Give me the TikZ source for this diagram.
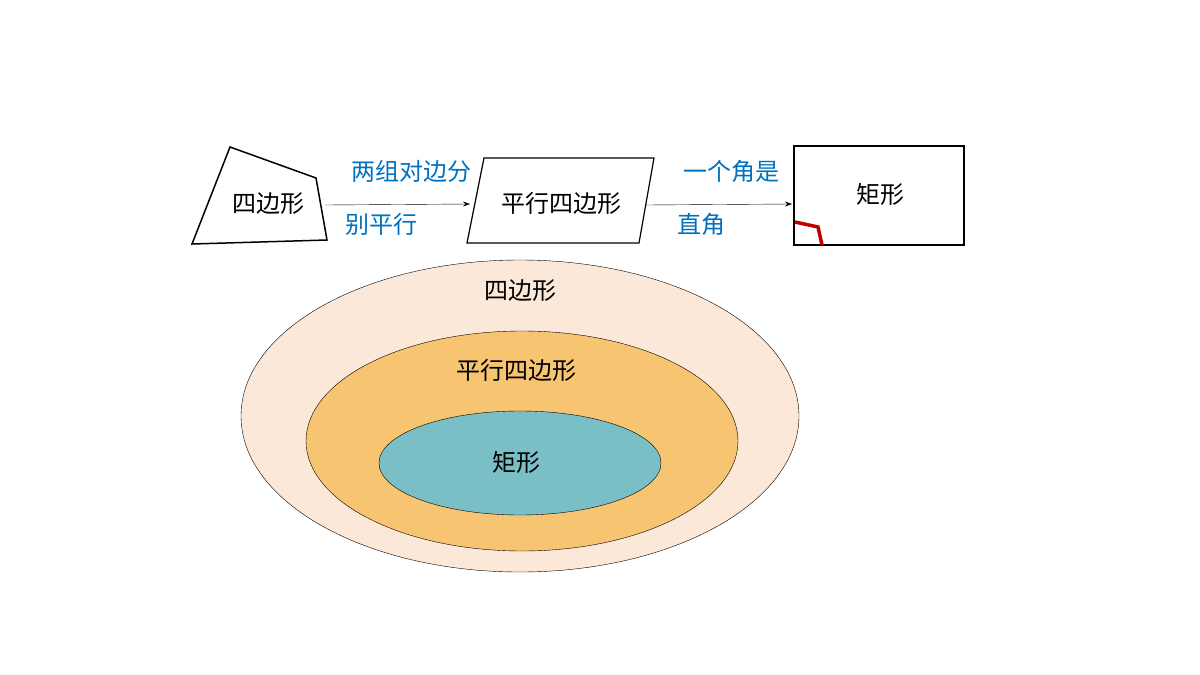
\documentclass[tikz,border=0pt]{standalone}
\usepackage{fontspec}
\setmainfont{Noto Sans CJK SC}
\usetikzlibrary{arrows.meta}
\definecolor{outerfill}{HTML}{FCE8D8}
\definecolor{midfill}{HTML}{F7C471}
\definecolor{innerfill}{HTML}{7BBFC6}
\definecolor{condblue}{HTML}{0070C0}
\definecolor{markred}{HTML}{C00000}
\begin{document}
\begin{tikzpicture}
    [x=1pt,y=-1pt,
      shapetext/.style={font=\fontsize{24}{28}\selectfont,inner sep=0pt},
      cond/.style={shapetext,text=condblue},
      trans/.style={-{Stealth[length=7pt,width=5pt]},thin},
      frame/.style={draw=black,line width=1.2pt}
    ]
    \useasboundingbox (0,0) rectangle (1200,675);

    % top row: the three shapes
    \draw [frame,line width=1.5pt] (230,147) -- (316,178) -- (327,240) -- (192,244) -- cycle;
    \node [shapetext] (quad) at (268,204) {四边形};
    \draw [frame] (484,158) -- (654,158) -- (639,243) -- (467,243) -- cycle;
    \node [shapetext] (para) at (561,203) {平行四边形};
    \draw [frame,line width=1.8pt] (794,146) rectangle (964,245);
    \node [shapetext] (rect) at (880,194) {矩形};
    \draw [markred,line width=3.5pt] (795,222) -- (818,227) -- (822,245);

    % arrows with conditions
    \coordinate (a1) at (325,205);
    \coordinate (a2) at (470,204);
    \coordinate (b1) at (646,205);
    \coordinate (b2) at (792,204);
    \draw [trans] (a1) -- (a2);
    \draw [trans] (b1) -- (b2);
    \node [cond] (c1) at (411,171) {两组对边分};
    \node [cond] (c2) at (381,224) {别平行};
    \node [cond] (c3) at (731,171) {一个角是};
    \node [cond] (c4) at (701,224) {直角};

    % nested sets
    \draw [fill=outerfill] (520,416) ellipse [x radius=279,y radius=156];
    \draw [fill=midfill] (522,441) ellipse [x radius=216,y radius=110];
    \draw [fill=innerfill] (520,463) ellipse [x radius=141,y radius=52];
    \node [shapetext] (setquad) at (520,291) {四边形};
    \node [shapetext] (setpara) at (516,370) {平行四边形};
    \node [shapetext] (setrect) at (516,462) {矩形};
\end{tikzpicture}
\end{document}
